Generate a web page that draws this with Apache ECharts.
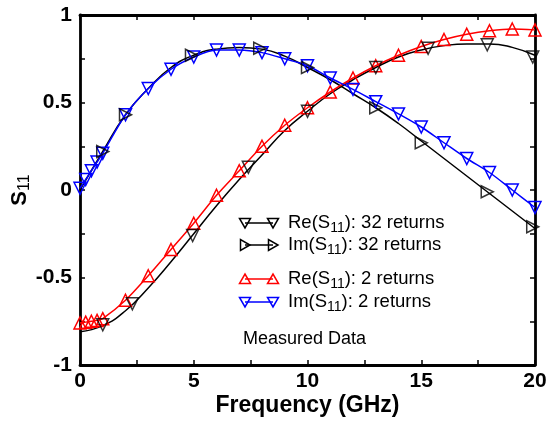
<!DOCTYPE html>
<html>
<head>
<meta charset="utf-8">
<script src="https://cdn.jsdelivr.net/npm/echarts@6/dist/echarts.min.js"></script>
<style>
  html, body { margin: 0; padding: 0; background: #fff; }
  #chart { width: 553px; height: 424px; }
</style>
</head>
<body>
<div id="chart"></div>
<script>
// frequency grid (GHz)
const freqCurve = [0, 1, 2, 3, 4, 5, 6, 7, 8, 9, 10, 11, 12, 13, 14, 15, 16, 17, 18, 19, 20]
const freq2 = [0, 0.25, 0.5, 0.75, 1, 2, 3, 4, 5, 6, 7, 8, 9, 10, 11, 12, 13, 14, 15, 16, 17, 18, 19, 20]

// 32 returns, smooth curves
const re32 = [-0.81, -0.775, -0.69, -0.56, -0.41, -0.25, -0.09, 0.06, 0.2, 0.34, 0.45, 0.55, 0.63, 0.7, 0.76, 0.8, 0.825, 0.835, 0.835, 0.815, 0.77]
const im32 = [0.0, 0.22, 0.43, 0.58, 0.7, 0.77, 0.805, 0.815, 0.805, 0.765, 0.7, 0.63, 0.55, 0.47, 0.38, 0.28, 0.18, 0.08, -0.02, -0.12, -0.22]

// 32 returns, marker positions
const re32MarkF = [1, 2.3, 4.95, 7.4, 10, 13, 15.3, 17.9, 19.9]
const re32MarkV = [-0.77, -0.65, -0.26, 0.13, 0.45, 0.7, 0.81, 0.83, 0.76]
const im32MarkF = [1, 2, 4.9, 7.9, 10, 13, 15, 17.9, 19.9]
const im32MarkV = [0.22, 0.43, 0.77, 0.81, 0.7, 0.47, 0.27, -0.01, -0.21]

// 2 returns
const re2 = [-0.76, -0.755, -0.75, -0.745, -0.735, -0.63, -0.49, -0.34, -0.19, -0.03, 0.11, 0.25, 0.37, 0.47, 0.56, 0.64, 0.71, 0.77, 0.82, 0.86, 0.89, 0.91, 0.92, 0.915]
const im2 = [0.01, 0.06, 0.11, 0.16, 0.21, 0.43, 0.58, 0.69, 0.76, 0.8, 0.8, 0.785, 0.75, 0.71, 0.64, 0.575, 0.505, 0.435, 0.36, 0.27, 0.18, 0.1, 0.0, -0.1]

const xTicks = [0, 5, 10, 15, 20]
const yTicks = [-1, -0.5, 0, 0.5, 1]

const zip = (xs, ys) => xs.map((x, i) => [x, ys[i]])

const chart = echarts.init(document.getElementById('chart'))
const FONT = 'Liberation Sans, Arial, sans-serif'
const AXC = '#000'

const tickLabel = {
  fontFamily: FONT, fontSize: 21, fontWeight: 'bold', color: '#000'
}

function boxAxis(pos, isX, show) {
  return {
    type: 'value',
    position: pos,
    min: isX ? xTicks[0] : yTicks[0],
    max: isX ? xTicks[xTicks.length - 1] : yTicks[yTicks.length - 1],
    interval: isX ? 5 : 0.5,
    axisLine: { show: true, onZero: false, lineStyle: { color: AXC, width: 2.8 } },
    axisTick: { show: true, inside: true, length: 5, lineStyle: { color: AXC, width: 1.5 } },
    minorTick: { show: true, splitNumber: 2, length: 5, lineStyle: { color: AXC, width: 1.5 } },
    splitLine: { show: false },
    axisLabel: show ? Object.assign({ margin: isX ? 6 : 8, formatter: (v) => String(v) }, tickLabel) : { show: false }
  }
}

const xMain = boxAxis('bottom', true, true)
xMain.name = 'Frequency (GHz)'
xMain.nameLocation = 'middle'
xMain.nameGap = 29
xMain.nameMoveOverlap = false
xMain.nameTextStyle = { fontFamily: FONT, fontSize: 23, fontWeight: 'bold', color: '#000' }

const yMain = boxAxis('left', false, true)
yMain.name = '{b|S}{s|11}'
yMain.nameLocation = 'middle'
yMain.nameGap = 47
yMain.nameRotate = 90
yMain.nameMoveOverlap = false
yMain.nameTextStyle = {
  rich: {
    b: { fontFamily: FONT, fontSize: 22, fontWeight: 'bold', color: '#000' },
    s: { fontFamily: FONT, fontSize: 16, color: '#000', padding: [10, 0, 0, 0] }
  }
}

const xTop = boxAxis('top', true, false)
const yRight = boxAxis('right', false, false)

function legendRow(y, color, rot, label) {
  const tri = (cx) => ({
    type: 'polygon',
    shape: { points: [[-5.5, -4.5], [5.5, -4.5], [0, 5]] },
    x: cx, y: y, rotation: rot,
    style: { fill: 'none', stroke: color, lineWidth: 1.5 }
  })
  return [
    { type: 'line', shape: { x1: 245, y1: y, x2: 273, y2: y }, style: { stroke: color, lineWidth: 1.5 } },
    tri(245), tri(273),
    {
      type: 'text', x: 288, y: y - 12,
      style: {
        text: '{n|' + label[0] + '}{s|11}{n|' + label[1] + '}',
        rich: {
          n: { fontFamily: FONT, fontSize: 18.5, fill: '#000', lineHeight: 23 },
          s: { fontFamily: FONT, fontSize: 14, fill: '#000', padding: [10, 0, 0, 0] }
        }
      }
    }
  ]
}

const graphics = [].concat(
  legendRow(223, '#000', 0, ['Re(S', '): 32 returns']),
  legendRow(245, '#000', Math.PI / 2, ['Im(S', '): 32 returns']),
  legendRow(279, '#ff0000', Math.PI, ['Re(S', '): 2 returns']),
  legendRow(302, '#0000ff', 0, ['Im(S', '): 2 returns']),
  [{
    type: 'text', x: 243, y: 330,
    style: { text: 'Measured Data', fontFamily: FONT, fontSize: 18, fill: '#000' }
  }]
)

const hollow = (c) => ({ color: 'rgba(0,0,0,0)', borderColor: c, borderWidth: 1.5 })

chart.setOption({
  animation: false,
  backgroundColor: '#fff',
  grid: { left: 80, top: 15, right: 18, bottom: 59, containLabel: false, outerBoundsMode: 'none' },
  xAxis: [xMain, xTop],
  yAxis: [yMain, yRight],
  graphic: graphics,
  series: [
    {
      type: 'line', data: zip(freqCurve, re32), smooth: true, showSymbol: false,
      lineStyle: { color: '#000', width: 1.5 }, z: 2
    },
    {
      type: 'line', data: zip(freqCurve, im32), smooth: true, showSymbol: false,
      lineStyle: { color: '#000', width: 1.5 }, z: 2
    },
    {
      type: 'line', data: zip(freq2, re2), smooth: 0.3,
      symbol: 'triangle', symbolSize: 12,
      lineStyle: { color: '#ff0000', width: 1.5 }, itemStyle: hollow('#ff0000'), z: 3
    },
    {
      type: 'line', data: zip(freq2, im2), smooth: 0.3,
      symbol: 'triangle', symbolSize: 12, symbolRotate: 180,
      lineStyle: { color: '#0000ff', width: 1.5 }, itemStyle: hollow('#0000ff'), z: 3
    },
    {
      type: 'scatter', data: zip(re32MarkF, re32MarkV),
      symbol: 'triangle', symbolSize: 12, symbolRotate: 180,
      itemStyle: hollow('#000'), z: 4
    },
    {
      type: 'scatter', data: zip(im32MarkF, im32MarkV),
      symbol: 'triangle', symbolSize: 12, symbolRotate: -90,
      itemStyle: hollow('#000'), z: 4
    }
  ]
})
</script>
</body>
</html>
